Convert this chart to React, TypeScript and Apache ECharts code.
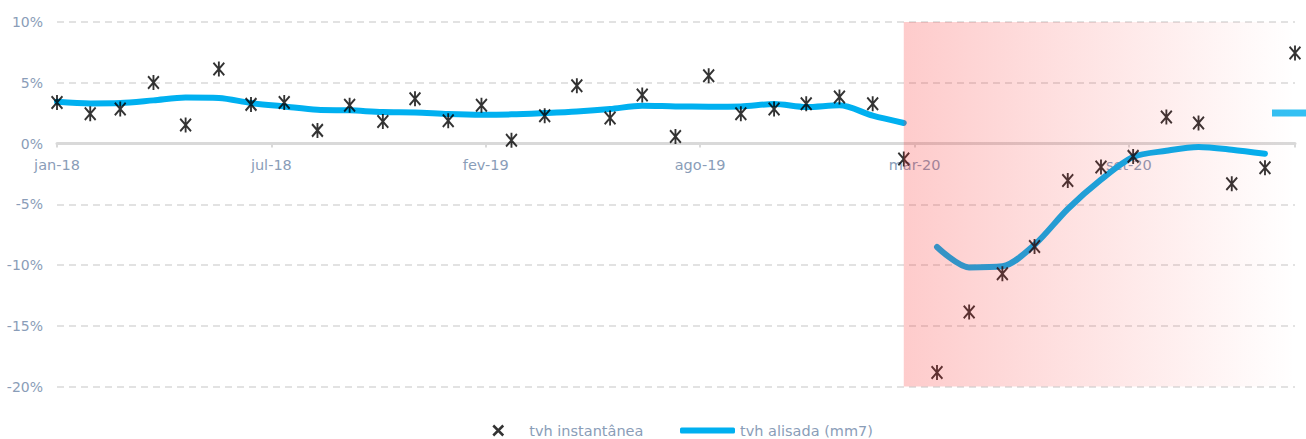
import React, { useEffect, useRef } from "react";
import * as echarts from "echarts";

const months: string[] = [
  "jan-18","fev-18","mar-18","abr-18","mai-18","jun-18","jul-18","ago-18","set-18","out-18","nov-18","dez-18",
  "jan-19","fev-19","mar-19","abr-19","mai-19","jun-19","jul-19","ago-19","set-19","out-19","nov-19","dez-19",
  "jan-20","fev-20","mar-20","abr-20","mai-20","jun-20","jul-20","ago-20","set-20","out-20","nov-20","dez-20",
  "jan-21","fev-21","mar-21",
];

// tvh instantânea (%)
const instant: number[] = [
  3.38, 2.45, 2.84, 5.03, 1.52, 6.13, 3.22, 3.38, 1.08, 3.14, 1.82, 3.69,
  1.88, 3.14, 0.26, 2.29, 4.76, 2.1, 3.99, 0.58, 5.58, 2.45, 2.84, 3.28,
  3.83, 3.28, -1.28, -18.84, -13.87, -10.72, -8.47, -3.04, -1.94, -1.06, 2.18, 1.69,
  -3.31, -1.99, 7.45,
];

// tvh alisada (mm7) (%)
const smoothed: number[] = [
  3.44, 3.3, 3.33, 3.55, 3.78, 3.74, 3.33, 3.05, 2.78, 2.73, 2.59, 2.56,
  2.43, 2.37, 2.4, 2.51, 2.64, 2.84, 3.11, 3.05, 3.03, 3.05, 3.25, 3.0,
  3.14, 2.29, 1.69, -8.52, -10.2, -10.11, -8.33, -5.39, -2.98, -1.11, -0.6, -0.29,
  -0.51, -0.84, 2.51,
];

const xTickLabels: string[] = ["jan-18", "jul-18", "fev-19", "ago-19", "mar-20", "set-20"];
const yTicks: number[] = [-20, -15, -10, -5, 0, 5, 10];

const BREAK_INDEX = 27; // first month of the second smoothed segment (abr-20)
const LAST_INDEX = 38; // mar-21, drawn as a dash
const SHADE_START = 26; // mar-20
const X_STEP = 200; // days between x-axis labels

const DAY = 86400000;
const start = Date.UTC(2018, 0, 1);
const dayOf = (i: number) => Math.round((Date.UTC(2018, i, 1) - start) / DAY);
const maxDay = dayOf(months.length - 1);

const LABEL = "#8a9db8";
const FONT = "'DejaVu Sans', sans-serif";
const BLUE = "#00b0f0";
const STAR = "path://M0,1L10,11M10,1L0,11M5,0L5,12";
const LEGEND_STAR = "path://M-15,5L-15,5M0,0L10,10M10,0L0,10M31,5L31,5";

export default function App() {
  const ref = useRef<HTMLDivElement>(null);
  useEffect(() => {
    if (!ref.current) return;
    const chart = echarts.init(ref.current, undefined, { renderer: "svg" });
    const scatterData = instant.map((v, i) => [dayOf(i), v]);
    const line1 = smoothed.slice(0, BREAK_INDEX).map((v, i) => [dayOf(i), v]);
    const line2 = smoothed
      .slice(BREAK_INDEX, LAST_INDEX)
      .map((v, i) => [dayOf(i + BREAK_INDEX), v]);
    const dash = [[dayOf(LAST_INDEX), smoothed[LAST_INDEX]]];
    const lineStyle = { color: BLUE, width: 6, cap: "round" };
    chart.setOption({
      animation: false,
      grid: { left: 57, right: 11, top: 22, bottom: 52.5 },
      xAxis: {
        type: "value",
        min: 0,
        max: maxDay,
        interval: X_STEP,
        splitLine: { show: false },
        axisLine: { show: true, onZero: true, lineStyle: { color: "#d9d9d9", width: 3 } },
        axisTick: { show: true, length: 4, lineStyle: { color: "#d9d9d9", width: 2 } },
        axisLabel: { show: false },
      },
      yAxis: {
        type: "value",
        min: yTicks[0],
        max: yTicks[yTicks.length - 1],
        interval: 5,
        axisLine: { show: false, onZero: false },
        axisTick: { show: false },
        axisLabel: {
          margin: 14,
          color: LABEL,
          fontFamily: FONT,
          fontSize: 14,
          formatter: "{value}%",
        },
        splitLine: { lineStyle: { color: "#d9d9d9", width: 1.5, type: [7, 5] } },
      },
      legend: [
        {
          left: 472,
          top: 418,
          itemWidth: 46,
          itemHeight: 10,
          textStyle: { color: LABEL, fontFamily: FONT, fontSize: 14.5 },
          data: [
            {
              name: "tvh instantânea",
              icon: LEGEND_STAR,
              itemStyle: { color: "#000", borderColor: "#000", borderWidth: 2.5 },
            },
          ],
        },
        {
          left: 675,
          top: 418,
          itemWidth: 55,
          itemHeight: 6,
          textStyle: { color: LABEL, fontFamily: FONT, fontSize: 14.5 },
          data: [{ name: "tvh alisada (mm7)", icon: "roundRect", itemStyle: { color: BLUE } }],
        },
      ],
      series: [
        {
          name: "tvh alisada (mm7)",
          type: "line",
          data: line1,
          smooth: 0.3,
          symbol: "none",
          z: 2,
          lineStyle,
          itemStyle: { color: BLUE },
        },
        {
          name: "tvh alisada (mm7)",
          type: "line",
          data: line2,
          smooth: 0.3,
          symbol: "none",
          z: 2,
          lineStyle,
          itemStyle: { color: BLUE },
        },
        {
          name: "tvh alisada (mm7)",
          type: "scatter",
          data: dash,
          symbol: "rect",
          symbolSize: [46, 7],
          z: 2,
          itemStyle: { color: BLUE },
        },
        {
          name: "tvh instantânea",
          type: "scatter",
          data: scatterData,
          symbol: STAR,
          symbolSize: [13, 15],
          symbolKeepAspect: true,
          z: 3,
          itemStyle: { color: "#000", borderColor: "#000", borderWidth: 2 },
        },
        {
          name: "shade",
          type: "line",
          data: [[dayOf(SHADE_START), 0]],
          symbol: "none",
          lineStyle: { opacity: 0 },
          z: 10,
          silent: true,
          markArea: {
            silent: true,
            z: 10,
            itemStyle: {
              color: new echarts.graphic.LinearGradient(0, 0, 1, 0, [
                { offset: 0, color: "rgba(250,40,40,0.24)" },
                { offset: 1, color: "rgba(250,40,40,0)" },
              ]),
            },
            data: [
              [
                { xAxis: dayOf(SHADE_START), yAxis: yTicks[0] },
                { xAxis: maxDay, yAxis: yTicks[yTicks.length - 1] },
              ],
            ],
          },
        },
      ],
    });
    // x-axis labels placed just below the 0% axis line, at the axis' own tick positions
    const graphics = xTickLabels.map((t, i) => {
      const p = chart.convertToPixel({ xAxisIndex: 0, yAxisIndex: 0 }, [i * X_STEP, 0]) as number[];
      return {
        type: "text",
        x: p[0],
        y: p[1] + 21,
        z: 0,
        silent: true,
        style: {
          text: t,
          fill: LABEL,
          fontFamily: FONT,
          fontSize: 14.5,
          align: "center",
          verticalAlign: "middle",
        },
      };
    });
    chart.setOption({ graphic: graphics });
    return () => chart.dispose();
  }, []);
  return (
    <div
      ref={ref}
      style={{ position: "fixed", left: 0, top: 0, width: 1306, height: 439, background: "#fff" }}
    />
  );
}
